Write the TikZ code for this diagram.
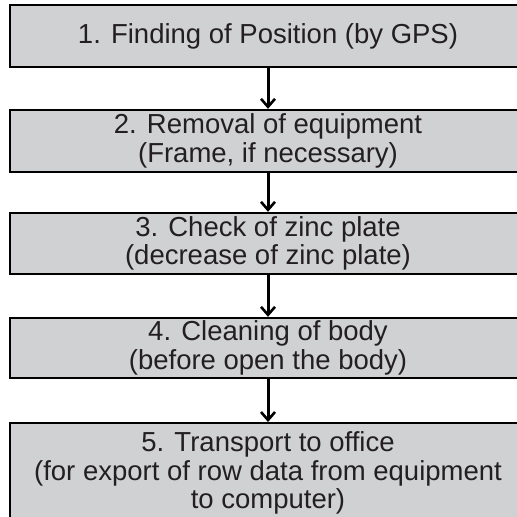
\documentclass[tikz,border=0pt]{standalone}
\usepackage{fontspec}
\setmainfont{Liberation Sans}
\usepackage{tikz}
\usetikzlibrary{arrows.meta}
\definecolor{boxgray}{RGB}{208,209,211}
\definecolor{txtgray}{RGB}{35,31,32}
\tikzstyle{step box} = [rectangle, draw=black, line width=1.2pt, fill=boxgray, text=txtgray, minimum width=258pt, align=center, font=\fontsize{13.75pt}{14.25pt}\selectfont, inner sep=0pt]
\tikzstyle{flow} = [line width=1.5pt, -{Straight Barb[length=4pt,width=7pt,line width=1.3pt]}]

\begin{document}
\begin{tikzpicture}[x=0.5pt, y=-0.5pt]

        \useasboundingbox (0,0) rectangle (517,517);
        \clip (0,0) rectangle (517,517);

        %% boxes

        \node (s1) [step box, minimum height=31pt] at (268,36) {1. Finding of Position (by GPS)};
        \node (s2) [step box, minimum height=31pt] at (268,141) {2. Removal of equipment\\(Frame, if necessary)};
        \node (s3) [step box, minimum height=30.5pt] at (268,243.5) {3. Check of zinc plate\\(decrease of zinc plate)};
        \node (s4) [step box, minimum height=30pt] at (268,348) {4. Cleaning of body\\(before open the body)};
        \node (s5) [step box, minimum height=50pt, anchor=north] at (268,422) {5. Transport to office\\(for export of row data from equipment\\to computer)};

        %% arrows

        \draw[flow] (s1.south) -- (s2.north);
        \draw[flow] (s2.south) -- (s3.north);
        \draw[flow] (s3.south) -- (s4.north);
        \draw[flow] (s4.south) -- (s5.north);

\end{tikzpicture}
\end{document}
